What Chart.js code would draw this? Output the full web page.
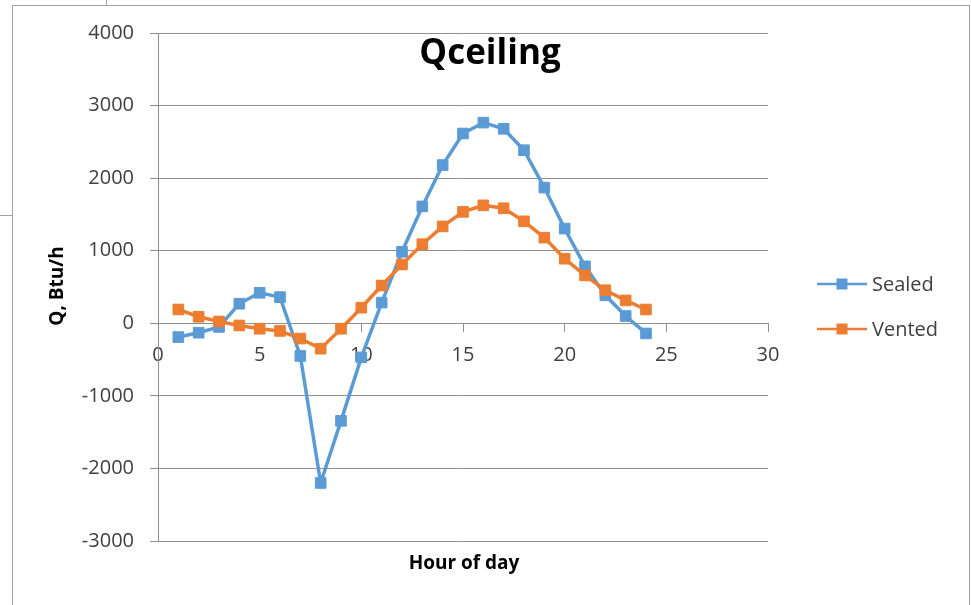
<!DOCTYPE html>
<html>
<head>
<meta charset="utf-8">
<title>Qceiling</title>
<script src="https://cdn.jsdelivr.net/npm/chart.js@4.4.1/dist/chart.umd.min.js"></script>
<style>
  html, body { margin: 0; padding: 0; background: #fff; }
  #wrap { position: relative; width: 971px; height: 605px; overflow: hidden; }
  .frame { position: absolute; left: 12px; top: 5px; width: 958px; height: 700px; border: 1px solid #a3a3a3; box-sizing: border-box; }
  .stub-top { position: absolute; left: 106px; top: 0; width: 1px; height: 6px; background: #a3a3a3; }
  .stub-left { position: absolute; left: 0; top: 215px; width: 12px; height: 1px; background: #a3a3a3; }
  canvas { position: absolute; left: 0; top: 0; }
</style>
</head>
<body>
<div id="wrap">
  <div class="frame"></div>
  <div class="stub-top"></div>
  <div class="stub-left"></div>
  <canvas id="chart" width="971" height="605"></canvas>
</div>
<script>
// Hourly ceiling heat flow, Btu/h
const hours  = [1, 2, 3, 4, 5, 6, 7, 8, 9, 10, 11, 12, 13, 14, 15, 16, 17, 18, 19, 20, 21, 22, 23, 24];
const sealed = [-190, -130, -50, 270, 420, 360, -450, -2200, -1345, -470, 285, 985, 1610, 2180, 2615, 2765, 2680, 2385, 1870, 1305, 785, 385, 100, -140];
const vented = [190, 90, 25, -30, -75, -105, -210, -350, -75, 215, 520, 810, 1090, 1335, 1535, 1625, 1585, 1405, 1180, 890, 660, 455, 315, 190];

const seriesNames = ['Sealed', 'Vented'];
const seriesColors = ['#5B9BD5', '#ED7D31'];

const chartTitle = 'Qceiling';
const xTitle = 'Hour of day';
const yTitle = 'Q, Btu/h';

const xRange = { min: 0, max: 30, step: 5 };
const yRange = { min: -3000, max: 4000, step: 1000 };

const GRID = '#8f8f8f';
const TEXT = '#404040';
const FONT = "'Open Sans', 'Noto Sans', sans-serif";

Chart.defaults.font.family = FONT;
Chart.defaults.color = TEXT;

const toPoints = (vals) => vals.map((v, i) => ({ x: hours[i], y: v }));
const plainNumber = (value) => String(value);

// Titles and legend are painted on top of the plot, Excel style
const overlay = {
  id: 'overlay',
  afterDraw(chart) {
    const { ctx } = chart;
    ctx.save();

    ctx.fillStyle = '#000';
    ctx.textAlign = 'center';
    ctx.textBaseline = 'alphabetic';
    ctx.font = "bold 35px " + FONT;
    ctx.fillText(chartTitle, 490, 64);

    ctx.font = "bold 19px " + FONT;
    ctx.fillText(xTitle, 464, 569);

    ctx.save();
    ctx.translate(58, 286);
    ctx.rotate(-Math.PI / 2);
    ctx.textBaseline = 'middle';
    ctx.fillText(yTitle, 0, 0);
    ctx.restore();

    // legend: line + square marker, then the series name
    chart.data.datasets.forEach((ds, i) => {
      const y = 284 + i * 45;
      ctx.strokeStyle = ds.borderColor;
      ctx.lineWidth = 2.5;
      ctx.beginPath();
      ctx.moveTo(817, y);
      ctx.lineTo(867, y);
      ctx.stroke();
      ctx.fillStyle = ds.backgroundColor;
      ctx.fillRect(836.5, y - 5.5, 11, 11);
      ctx.fillStyle = TEXT;
      ctx.textAlign = 'left';
      ctx.textBaseline = 'middle';
      ctx.font = "20px " + FONT;
      ctx.fillText(ds.label, 872, y + 1);
    });

    ctx.restore();
  }
};

const seriesStyle = (i) => ({
  label: seriesNames[i],
  borderColor: seriesColors[i],
  backgroundColor: seriesColors[i],
  borderWidth: 3.5,
  pointStyle: 'rect',
  pointRadius: 7.5,
  pointBorderWidth: 1,
  tension: 0
});

new Chart(document.getElementById('chart'), {
  type: 'line',
  data: {
    datasets: [
      Object.assign(seriesStyle(0), { data: toPoints(sealed), order: 2 }),
      Object.assign(seriesStyle(1), { data: toPoints(vented), order: 1 })
    ]
  },
  options: {
    responsive: false,
    animation: false,
    devicePixelRatio: 1,
    layout: { padding: { left: 70, right: 203, top: 33, bottom: 64 } },
    plugins: {
      legend: { display: false },
      title: { display: false },
      tooltip: { enabled: false }
    },
    scales: {
      x: {
        type: 'linear',
        position: { y: 0 },
        min: xRange.min,
        max: xRange.max,
        ticks: { stepSize: xRange.step, padding: 12, color: TEXT, font: { size: 20 }, maxRotation: 0, callback: plainNumber },
        grid: { drawOnChartArea: false, drawTicks: true, tickLength: 8, color: GRID },
        border: { display: true, color: GRID, width: 1 },
        afterFit(scale) { scale.height = 0; }
      },
      y: {
        type: 'linear',
        min: yRange.min,
        max: yRange.max,
        ticks: { stepSize: yRange.step, padding: 16, color: TEXT, font: { size: 20 }, callback: plainNumber },
        grid: { drawTicks: true, tickLength: 8, color: GRID },
        border: { display: true, color: GRID, width: 1 },
        afterFit(scale) { scale.width = 88; }
      }
    }
  },
  plugins: [overlay]
});
</script>
</body>
</html>
